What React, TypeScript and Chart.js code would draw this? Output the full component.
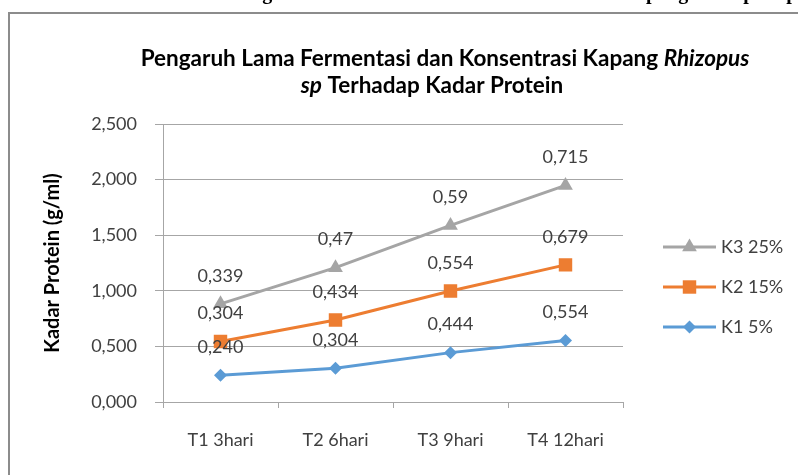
import React, { useEffect, useRef } from "react";
import { Chart, registerables } from "chart.js";
import { drawPoint } from "chart.js/helpers";

Chart.register(...registerables);

const categories = ["T1 3hari", "T2 6hari", "T3 9hari", "T4 12hari"];
const k1Values = [0.24, 0.304, 0.444, 0.554];
const k2Values = [0.304, 0.434, 0.554, 0.679];
const k3Values = [0.339, 0.47, 0.59, 0.715];
const seriesNames = ["K1 5%", "K2 15%", "K3 25%"];
const labelDecimals = [3, 0, 0];
const yTicks = [0, 0.5, 1, 1.5, 2, 2.5];
const yAxisTitle = "Kadar Protein (g/ml)";
const titleLine1 = [
  { text: "Pengaruh Lama Fermentasi dan Konsentrasi Kapang ", italic: false },
  { text: "Rhizopus", italic: true },
];
const titleLine2 = [
  { text: "sp", italic: true },
  { text: " Terhadap Kadar Protein", italic: false },
];
const captionText =
  "Gambar 2. Grafik Pengaruh Lama Fermentasi dan Konsentrasi Kapang Rhizopus sp. pada Kadar Protein";

const BLUE = "#5B9BD5";
const ORANGE = "#ED7D31";
const GREY = "#A5A5A5";
const GRID = "#A6A6A6";
const TEXT = "#404040";
const FONT = "Lato, 'Open Sans', sans-serif";

const fmt = (v: number, d: number) =>
  (d ? v.toFixed(d) : String(v)).replace(".", ",");

const drawSegments = (ctx: CanvasRenderingContext2D, segs: { text: string; italic: boolean }[], cx: number, y: number, size: number) => {
  const fontFor = (it: boolean) => `${it ? "italic " : ""}bold ${size}px ${FONT}`;
  let total = 0;
  const widths = segs.map((s) => {
    ctx.font = fontFor(s.italic);
    const w = ctx.measureText(s.text).width;
    total += w;
    return w;
  });
  let x = cx - total / 2;
  segs.forEach((s, i) => {
    ctx.font = fontFor(s.italic);
    ctx.fillText(s.text, x, y);
    x += widths[i];
  });
};

const decor = {
  id: "decor",
  beforeDraw(chart: any) {
    const ctx = chart.ctx as CanvasRenderingContext2D;
    ctx.save();
    ctx.fillStyle = "#fff";
    ctx.fillRect(0, 0, chart.width, chart.height);
    ctx.strokeStyle = "#8C8C8C";
    ctx.lineWidth = 2;
    ctx.strokeRect(9, 13, 900, 600);
    ctx.fillStyle = "#000";
    ctx.font = "bold 20px 'Liberation Serif', serif";
    ctx.textBaseline = "alphabetic";
    ctx.textAlign = "left";
    ctx.fillText(captionText, 70, -1);
    ctx.restore();
  },
  afterDraw(chart: any) {
    const ctx = chart.ctx as CanvasRenderingContext2D;
    const area = chart.chartArea;
    ctx.save();
    // title
    ctx.fillStyle = "#000";
    ctx.textBaseline = "alphabetic";
    ctx.textAlign = "left";
    drawSegments(ctx, titleLine1, 445, 66, 22.5);
    drawSegments(ctx, titleLine2, 432, 93, 22.5);
    // y title
    ctx.save();
    ctx.translate(53, (area.top + area.bottom) / 2);
    ctx.rotate(-Math.PI / 2);
    ctx.textAlign = "center";
    ctx.textBaseline = "middle";
    ctx.font = `bold 20px ${FONT}`;
    ctx.fillText(yAxisTitle, 0, 0);
    ctx.restore();
    // data labels
    ctx.fillStyle = TEXT;
    ctx.font = `18px ${FONT}`;
    ctx.textAlign = "center";
    ctx.textBaseline = "middle";
    chart.data.datasets.forEach((ds: any, i: number) => {
      const meta = chart.getDatasetMeta(i);
      meta.data.forEach((pt: any, j: number) => {
        ctx.fillText(fmt(ds.data[j], labelDecimals[i]), pt.x, pt.y - 28);
      });
    });
    // legend
    const order = [2, 1, 0];
    order.forEach((di, k) => {
      const ds = chart.data.datasets[di];
      const y = 247 + k * 40;
      ctx.strokeStyle = ds.borderColor;
      ctx.lineWidth = 3;
      ctx.beginPath();
      ctx.moveTo(663, y);
      ctx.lineTo(716, y);
      ctx.stroke();
      ctx.fillStyle = ds.backgroundColor;
      drawPoint(ctx, { pointStyle: ds.pointStyle, radius: ds.pointRadius, rotation: 0, borderWidth: 0 } as any, 689.5, y);
      ctx.fillStyle = TEXT;
      ctx.font = `18px ${FONT}`;
      ctx.textAlign = "left";
      ctx.textBaseline = "middle";
      ctx.fillText(ds.label, 721, y);
    });
    ctx.restore();
  },
};

export default function App() {
  const ref = useRef<HTMLCanvasElement>(null);
  useEffect(() => {
    document.body.style.margin = "0";
    const mk = (label: string, data: number[], color: string, pointStyle: string, r: number) => ({
      label,
      data,
      borderColor: color,
      backgroundColor: color,
      pointBackgroundColor: color,
      pointBorderColor: color,
      pointBorderWidth: 0,
      pointStyle,
      pointRadius: r,
      borderWidth: 3,
      tension: 0,
      fill: false,
    });
    const chart = new Chart(ref.current!, {
      type: "line",
      data: {
        labels: categories,
        datasets: [
          mk(seriesNames[0], k1Values, BLUE, "rectRot", 6.5),
          mk(seriesNames[1], k2Values, ORANGE, "rect", 9.5),
          mk(seriesNames[2], k3Values, GREY, "triangle", 8.5),
        ] as any,
      },
      options: {
        responsive: false,
        animation: false,
        layout: { padding: { left: 0, top: 124, right: 175, bottom: 0 } },
        plugins: {
          legend: { display: false },
          title: { display: false },
          tooltip: { enabled: false },
        },
        scales: {
          x: {
            offset: true,
            grid: { offset: true, drawOnChartArea: false, drawTicks: true, tickLength: 6, color: GRID },
            border: { color: GRID, width: 1 },
            ticks: { font: { family: FONT, size: 18 }, color: TEXT, padding: 21, maxRotation: 0 },
            afterFit: (s: any) => {
              s.height = 73;
            },
          },
          y: {
            stacked: true,
            min: 0,
            max: 2.5,
            afterBuildTicks: (s: any) => {
              s.ticks = yTicks.map((v) => ({ value: v }));
            },
            ticks: {
              font: { family: FONT, size: 18 },
              color: TEXT,
              padding: 18,
              callback: (v: any) => fmt(Number(v), 3),
            },
            grid: { color: GRID, tickLength: 8 },
            border: { color: GRID },
            afterFit: (s: any) => {
              s.width = 163;
            },
          },
        },
      } as any,
      plugins: [decor as any],
    });
    return () => chart.destroy();
  }, []);
  return (
    <div style={{ width: 798, height: 475 }}>
      <canvas ref={ref} width={798} height={475} style={{ display: "block" }} />
    </div>
  );
}
